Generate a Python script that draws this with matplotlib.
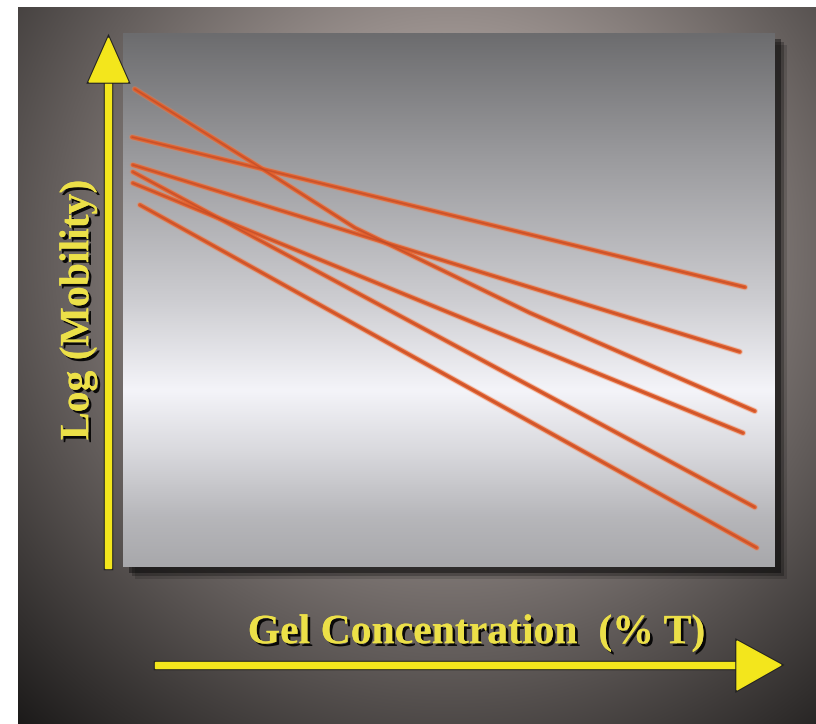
import numpy as np
import matplotlib
matplotlib.use("Agg")
import matplotlib.pyplot as plt
import matplotlib.patheffects as pe
from matplotlib.patches import Polygon, Rectangle

# === Data (gel concentration vs log mobility, arbitrary units) ===
line_a_x = [0.14, 9.54]
line_a_y = [8.05, 5.24]
line_b_x = [0.15, 9.46]
line_b_y = [7.53, 4.03]
line_c_x = [0.18, 1.99, 3.56, 6.24, 9.69]
line_c_y = [8.95, 7.57, 6.35, 4.76, 2.92]
line_d_x = [0.15, 9.51]
line_d_y = [7.19, 2.51]
line_e_x = [0.15, 9.69]
line_e_y = [7.40, 1.12]
line_f_x = [0.26, 9.72]
line_f_y = [6.78, 0.36]

series = [(line_a_x, line_a_y), (line_b_x, line_b_y), (line_c_x, line_c_y),
          (line_d_x, line_d_y), (line_e_x, line_e_y), (line_f_x, line_f_y)]

x_label = "Gel Concentration  (% T)"
y_label = "Log (Mobility)"

W, H = 816, 724
fig = plt.figure(figsize=(W / 100, H / 100), dpi=100)
fig.patch.set_facecolor("white")

# background (pixel coordinates) for decoration
bg = fig.add_axes([0, 0, 1, 1])
bg.set_xlim(0, W)
bg.set_ylim(H, 0)
bg.axis("off")

# radial dark backdrop
yy, xx = np.mgrid[7:H, 18:W]
r = np.hypot(xx - 450, (yy - 250) * 1.0)
b = np.clip(220 - 0.3 * r, 25, 160) / 255.0
img = np.dstack([b, b * 0.94, b * 0.92])
bg.imshow(img, extent=(18, W, H, 7), zorder=0, aspect="auto")

# soft panel shadow
for off, a in [(12, 0.15), (9, 0.25), (6, 0.4)]:
    bg.add_patch(Rectangle((123 + off, 33 + off), 652, 534, color="black",
                           alpha=a, zorder=1, lw=0))

# === Plot panel ===
ax = fig.add_axes([123 / W, 1 - 567 / H, 652 / W, 534 / H])
ax.set_xlim(0, 10)
ax.set_ylim(0, 10)
ax.axis("off")

# metallic vertical gradient (fraction from bottom -> grey level)
stops_y = [0.0, 0.09, 0.22, 0.33, 0.5, 0.78, 1.0]
stops_v = [168, 182, 218, 244, 205, 152, 108]
yv = np.linspace(0, 1, 300)
col = np.interp(yv, stops_y, stops_v) / 255.0
grad = np.clip(np.stack([col, col, col * 1.02], axis=-1)[:, None, :].repeat(2, axis=1), 0, 1)
ax.imshow(grad, extent=(0, 10, 0, 10), origin="lower", aspect="auto", zorder=0)

for xs, ys in series:
    ax.plot(xs, ys, color="#f08050", lw=4.5, solid_capstyle="round", alpha=0.35, zorder=2)
    ax.plot(xs, ys, color="#e4602c", lw=3.0, solid_capstyle="round", alpha=0.95, zorder=3)
    ax.plot(xs, ys, color="#b84626", lw=1.1, solid_capstyle="round", alpha=0.6, zorder=4)

# overlay for arrows and labels
top = fig.add_axes([0, 0, 1, 1])
top.set_xlim(0, W)
top.set_ylim(H, 0)
top.axis("off")
top.patch.set_alpha(0)

yellow = "#f3e61c"
outline = [pe.Stroke(linewidth=2.5, foreground="#222222"), pe.Normal()]
vshaft = Rectangle((105, 80), 6, 488, color=yellow, zorder=3)
vhead = Polygon([[89, 82], [128, 82], [108.5, 38]], closed=True, color=yellow, zorder=3)
hshaft = Rectangle((155, 662), 585, 6, color=yellow, zorder=3)
hhead = Polygon([[737, 641], [737, 690], [781, 665]], closed=True, color=yellow, zorder=3)
for p in (vshaft, vhead, hshaft, hhead):
    p.set_path_effects(outline)
    top.add_patch(p)

txt_fx = [pe.withSimplePatchShadow(offset=(2, -2), shadow_rgbFace="black", alpha=0.9), pe.Normal()]
top.text(476, 633, x_label, ha="center", va="center", fontsize=30, fontweight="bold",
         family="Liberation Serif", color="#ece048", zorder=4, path_effects=txt_fx)
top.text(78, 310, y_label, ha="center", va="center", rotation=90, fontsize=30,
         fontweight="bold", family="Liberation Serif", color="#ece048", zorder=4,
         path_effects=txt_fx)

plt.savefig("out.png", dpi=100, facecolor=fig.get_facecolor())
